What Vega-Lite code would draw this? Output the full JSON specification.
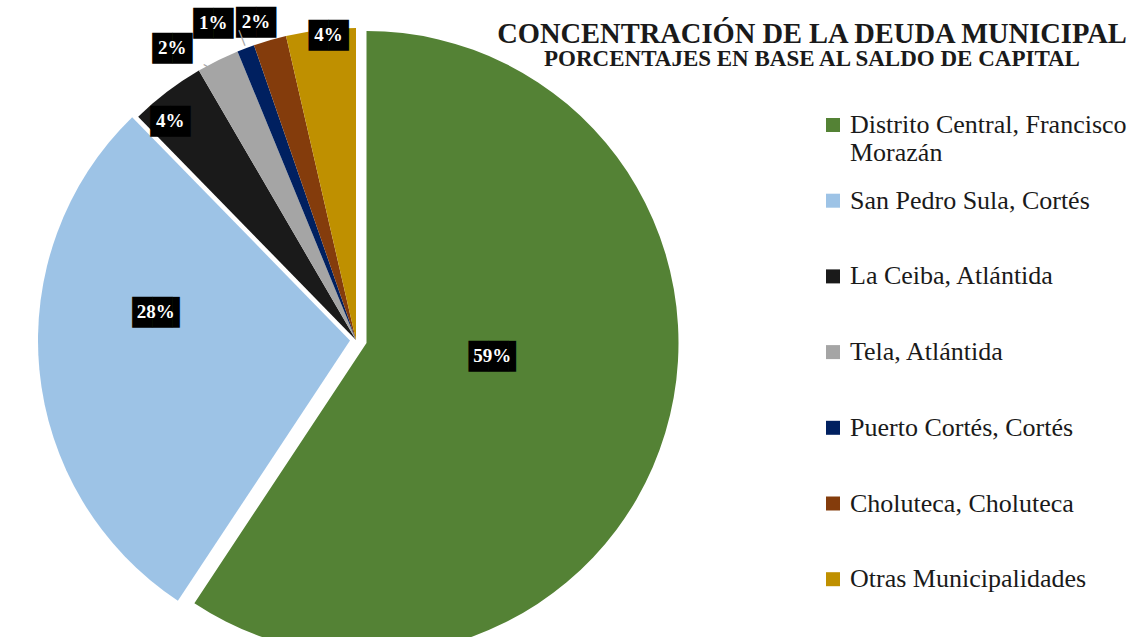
{
  "$schema": "https://vega.github.io/schema/vega-lite/v6.json",
  "width": 712,
  "height": 680,
  "autosize": {"type": "none"},
  "padding": {"left": 0, "top": 0, "right": 428, "bottom": 0},
  "background": "white",
  "config": {"view": {"stroke": null}, "legend": {"labelFont": "Liberation Serif", "labelFontSize": 26, "labelColor": "#1a1a1a"}},
  "title": {
    "text": "CONCENTRACIÓN DE LA DEUDA MUNICIPAL",
    "subtitle": "PORCENTAJES EN BASE AL SALDO DE CAPITAL",
    "anchor": "middle",
    "frame": "group",
    "orient": "top",
    "offset": -80,
    "dx": 456,
    "font": "Liberation Serif",
    "fontSize": 28.5,
    "fontWeight": "bold",
    "color": "#1a1a1a",
    "subtitleFont": "Liberation Serif",
    "subtitleFontSize": 23,
    "subtitleFontWeight": "bold",
    "subtitleColor": "#1a1a1a",
    "subtitlePadding": 0
  },
  "data": {
    "values": [
      {"name": "Distrito Central, Francisco Morazán", "share": 0.593, "order": 1},
      {"name": "San Pedro Sula, Cortés", "share": 0.284, "order": 2},
      {"name": "La Ceiba, Atlántida", "share": 0.039, "order": 3},
      {"name": "Tela, Atlántida", "share": 0.022, "order": 4},
      {"name": "Puerto Cortés, Cortés", "share": 0.009, "order": 5},
      {"name": "Choluteca, Choluteca", "share": 0.017, "order": 6},
      {"name": "Otras Municipalidades", "share": 0.036, "order": 7}
    ]
  },
  "encoding": {
    "theta": {"field": "share", "type": "quantitative", "stack": true},
    "order": {"field": "order", "type": "quantitative"}
  },
  "layer": [
    {
      "mark": {"type": "arc", "radius": 312, "xOffset": 10.5, "yOffset": 3},
      "encoding": {
        "color": {"field": "name", "type": "nominal",
          "scale": {"domain": ["Distrito Central, Francisco Morazán", "San Pedro Sula, Cortés", "La Ceiba, Atlántida", "Tela, Atlántida", "Puerto Cortés, Cortés", "Choluteca, Choluteca", "Otras Municipalidades"],
                    "range": ["#548235", "#9dc3e6", "#1a1a1a", "#a5a5a5", "#002060", "#843c0c", "#bf9000"]},
          "legend": {"orient": "none", "legendX": 820, "legendY": 112, "title": null,
            "symbolType": "square", "symbolSize": 196, "symbolStrokeWidth": 0, "symbolOpacity": 1,
            "labelFont": "Liberation Serif", "labelFontSize": 26, "labelColor": "#1a1a1a",
            "labelLimit": 400, "labelOffset": 4, "rowPadding": 21.7, "labelBaseline": "middle",
            "labelExpr": "datum.label === 'Distrito Central, Francisco Morazán' ? ['Distrito Central, Francisco', 'Morazán'] : [datum.label, '']"}},
        "opacity": {"condition": {"test": "datum.order === 1", "value": 1}, "value": 0}
      }
    },
    {
      "mark": {"type": "arc", "radius": 312, "xOffset": -6, "yOffset": 0.5},
      "encoding": {
        "color": {"field": "name", "type": "nominal"},
        "opacity": {"condition": {"test": "datum.order === 2", "value": 1}, "value": 0}
      }
    },
    {
      "mark": {"type": "arc", "radius": 312},
      "encoding": {
        "color": {"field": "name", "type": "nominal"},
        "opacity": {"condition": {"test": "datum.order > 2", "value": 1}, "value": 0}
      }
    },
    {"mark": {"type": "text", "radius": 135, "dx": 13.3, "dy": -22, "font": "DejaVu Sans", "fontSize": 26, "color": "#000", "baseline": "middle"},
     "encoding": {"detail": {"field": "name"}, "text": {"condition": {"test": "datum.order === 1", "value": "██▍"}, "value": ""}}},
    {"mark": {"type": "text", "radius": 135, "dx": 7, "dy": -23, "font": "Liberation Serif", "fontWeight": "bold", "fontSize": 19, "color": "#ffffff", "baseline": "middle"},
     "encoding": {"detail": {"field": "name"}, "text": {"condition": {"test": "datum.order === 1", "field": "share", "type": "quantitative", "format": ".0%"}, "value": ""}}},
    {"mark": {"type": "text", "radius": 197, "dx": 2.3, "dy": -46, "font": "DejaVu Sans", "fontSize": 26, "color": "#000", "baseline": "middle"},
     "encoding": {"detail": {"field": "name"}, "text": {"condition": {"test": "datum.order === 2", "value": "██▍"}, "value": ""}}},
    {"mark": {"type": "text", "radius": 197, "dx": -4, "dy": -47, "font": "Liberation Serif", "fontWeight": "bold", "fontSize": 19, "color": "#ffffff", "baseline": "middle"},
     "encoding": {"detail": {"field": "name"}, "text": {"condition": {"test": "datum.order === 2", "field": "share", "type": "quantitative", "format": ".0%"}, "value": ""}}},
    {"mark": {"type": "text", "radius": 287, "dx": -12, "dy": 10, "font": "DejaVu Sans", "fontSize": 26, "color": "#000", "baseline": "middle"},
     "encoding": {"detail": {"field": "name"}, "text": {"condition": {"test": "datum.order === 3", "value": "██"}, "value": ""}}},
    {"mark": {"type": "text", "radius": 287, "dx": -12, "dy": 9, "font": "Liberation Serif", "fontWeight": "bold", "fontSize": 19, "color": "#ffffff", "baseline": "middle"},
     "encoding": {"detail": {"field": "name"}, "text": {"condition": {"test": "datum.order === 3", "field": "share", "type": "quantitative", "format": ".0%"}, "value": ""}}},
    {"mark": {"type": "text", "radius": 343, "dx": -32, "dy": 17, "font": "DejaVu Sans", "fontSize": 26, "color": "#000", "baseline": "middle"},
     "encoding": {"detail": {"field": "name"}, "text": {"condition": {"test": "datum.order === 4", "value": "██"}, "value": ""}}},
    {"mark": {"type": "text", "radius": 343, "dx": -32, "dy": 16, "font": "Liberation Serif", "fontWeight": "bold", "fontSize": 19, "color": "#ffffff", "baseline": "middle"},
     "encoding": {"detail": {"field": "name"}, "text": {"condition": {"test": "datum.order === 4", "field": "share", "type": "quantitative", "format": ".0%"}, "value": ""}}},
    {"mark": {"type": "text", "radius": 347, "dx": -20, "dy": 9, "font": "DejaVu Sans", "fontSize": 26, "color": "#000", "baseline": "middle"},
     "encoding": {"detail": {"field": "name"}, "text": {"condition": {"test": "datum.order === 5", "value": "██"}, "value": ""}}},
    {"mark": {"type": "text", "radius": 347, "dx": -20, "dy": 8, "font": "Liberation Serif", "fontWeight": "bold", "fontSize": 19, "color": "#ffffff", "baseline": "middle"},
     "encoding": {"detail": {"field": "name"}, "text": {"condition": {"test": "datum.order === 5", "field": "share", "type": "quantitative", "format": ".0%"}, "value": ""}}},
    {"mark": {"type": "text", "radius": 333, "dx": -8, "dy": 3, "font": "DejaVu Sans", "fontSize": 26, "color": "#000", "baseline": "middle"},
     "encoding": {"detail": {"field": "name"}, "text": {"condition": {"test": "datum.order === 6", "value": "██"}, "value": ""}}},
    {"mark": {"type": "text", "radius": 333, "dx": -8, "dy": 2, "font": "Liberation Serif", "fontWeight": "bold", "fontSize": 19, "color": "#ffffff", "baseline": "middle"},
     "encoding": {"detail": {"field": "name"}, "text": {"condition": {"test": "datum.order === 6", "field": "share", "type": "quantitative", "format": ".0%"}, "value": ""}}},
    {"mark": {"type": "text", "radius": 306, "dx": 7, "dy": 0, "font": "DejaVu Sans", "fontSize": 26, "color": "#000", "baseline": "middle"},
     "encoding": {"detail": {"field": "name"}, "text": {"condition": {"test": "datum.order === 7", "value": "██"}, "value": ""}}},
    {"mark": {"type": "text", "radius": 306, "dx": 7, "dy": -1, "font": "Liberation Serif", "fontWeight": "bold", "fontSize": 19, "color": "#ffffff", "baseline": "middle"},
     "encoding": {"detail": {"field": "name"}, "text": {"condition": {"test": "datum.order === 7", "field": "share", "type": "quantitative", "format": ".0%"}, "value": ""}}},
    {"mark": {"type": "text", "radius": 322, "angle": 339, "font": "DejaVu Sans", "fontSize": 14, "color": "#a5a5a5", "baseline": "middle"},
     "encoding": {"detail": {"field": "name"}, "text": {"condition": {"test": "datum.order === 5", "value": "│"}, "value": ""}}},
    {"mark": {"type": "text", "radius": 318, "angle": 300, "dx": -14, "dy": 4, "font": "DejaVu Sans", "fontSize": 14, "color": "#a5a5a5", "baseline": "middle"},
     "encoding": {"detail": {"field": "name"}, "text": {"condition": {"test": "datum.order === 4", "value": "│"}, "value": ""}}}
  ]
}
